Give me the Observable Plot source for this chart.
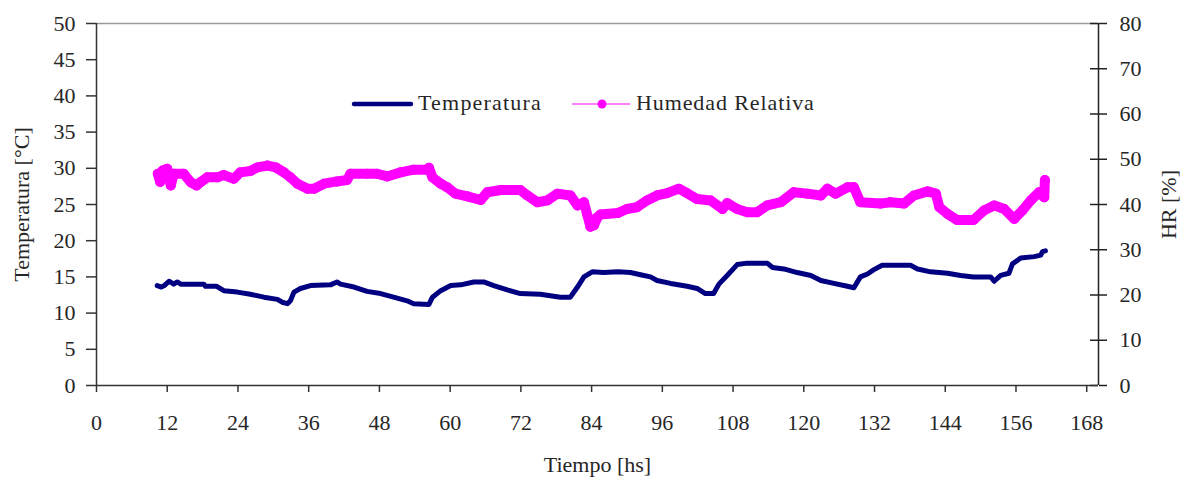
<!DOCTYPE html>
<html>
<head>
<meta charset="utf-8">
<script src="https://cdn.jsdelivr.net/npm/d3@7"></script>
<script src="https://cdn.jsdelivr.net/npm/@observablehq/plot@0.6"></script>
<style>
  html, body { margin: 0; padding: 0; background: #fff; }
  #wrap { position: relative; width: 1190px; height: 481px; }
  #legend { position: absolute; left: 0; top: 0; pointer-events: none; }
</style>
</head>
<body>
<div id="wrap">
  <div id="chart"></div>
  <svg id="legend" width="1190" height="481"></svg>
</div>
<script>
// ---- data ----
const xTicks = [0, 12, 24, 36, 48, 60, 72, 84, 96, 108, 120, 132, 144, 156, 168];
const tempTicks = [0, 5, 10, 15, 20, 25, 30, 35, 40, 45, 50];
const hrTicks = [0, 10, 20, 30, 40, 50, 60, 70, 80];

const tempHours = [10.3, 11.0, 11.5, 12.3, 13.1, 13.7, 14.3, 16.0, 18.2, 18.5, 20.4, 21.6, 23.9, 26.1, 28.4, 30.7, 31.5, 32.4, 32.9, 33.5, 34.6, 36.3, 39.7, 40.8, 41.4, 43.7, 45.9, 48.2, 50.4, 52.7, 53.8, 56.4, 57.0, 58.4, 60.1, 61.8, 64.0, 65.7, 67.4, 69.7, 71.9, 75.3, 78.7, 80.4, 81.6, 82.7, 84.1, 86.0, 88.5, 90.6, 92.3, 94.0, 95.1, 97.4, 100.2, 101.9, 103.3, 104.7, 105.6, 107.0, 108.7, 110.4, 113.8, 114.7, 116.6, 118.9, 121.2, 122.9, 125.1, 127.4, 128.5, 129.6, 130.8, 131.9, 133.3, 138.1, 139.3, 141.5, 144.4, 146.6, 148.8, 151.7, 152.3, 153.4, 154.8, 155.4, 156.8, 159.1, 160.2, 160.5, 161.0];
const tempValues = [13.8, 13.6, 13.8, 14.4, 14.0, 14.3, 14.0, 14.0, 14.0, 13.7, 13.7, 13.1, 12.9, 12.6, 12.2, 11.9, 11.5, 11.3, 11.7, 12.9, 13.4, 13.8, 13.9, 14.3, 14.0, 13.6, 13.0, 12.7, 12.2, 11.7, 11.3, 11.2, 12.2, 13.1, 13.8, 13.9, 14.3, 14.3, 13.8, 13.2, 12.7, 12.6, 12.2, 12.2, 13.6, 15.0, 15.7, 15.6, 15.7, 15.6, 15.3, 15.0, 14.5, 14.1, 13.7, 13.4, 12.7, 12.7, 14.0, 15.2, 16.7, 16.9, 16.9, 16.3, 16.1, 15.6, 15.2, 14.5, 14.1, 13.7, 13.5, 15.0, 15.4, 16.0, 16.6, 16.6, 16.1, 15.7, 15.5, 15.2, 15.0, 15.0, 14.4, 15.2, 15.5, 16.8, 17.6, 17.8, 18.0, 18.5, 18.6];

const hrHours = [10.4, 10.8, 11.2, 12.0, 12.3, 12.6, 13.1, 14.8, 16.0, 17.0, 17.6, 18.8, 20.5, 21.6, 23.3, 24.4, 26.1, 27.3, 29.0, 30.4, 31.8, 32.9, 34.1, 35.8, 36.9, 38.6, 40.8, 42.5, 43.1, 45.9, 47.6, 49.3, 51.6, 53.8, 56.1, 56.4, 57.0, 58.4, 59.5, 60.9, 62.9, 65.2, 66.3, 68.6, 71.9, 73.1, 74.8, 76.5, 78.2, 80.4, 81.6, 82.7, 83.3, 83.8, 84.4, 85.0, 85.5, 88.4, 90.0, 91.7, 93.4, 95.1, 96.8, 98.8, 100.2, 101.9, 104.2, 106.2, 107.0, 108.7, 110.4, 112.1, 113.8, 116.1, 118.3, 120.6, 122.9, 124.0, 125.4, 127.4, 128.5, 129.6, 133.0, 134.7, 137.0, 138.7, 141.0, 142.4, 143.0, 144.4, 146.0, 148.8, 150.6, 152.3, 154.0, 155.7, 157.1, 158.5, 159.9, 160.8, 160.9];
const hrValues = [46.8, 45.0, 47.5, 47.9, 46.0, 44.2, 46.8, 46.8, 44.9, 44.2, 44.9, 46.0, 46.0, 46.5, 45.7, 47.1, 47.4, 48.2, 48.6, 48.2, 47.1, 46.0, 44.6, 43.5, 43.5, 44.6, 45.1, 45.4, 46.8, 46.8, 46.8, 46.2, 47.1, 47.7, 47.7, 48.1, 46.0, 44.6, 43.8, 42.4, 41.8, 41.0, 42.7, 43.2, 43.2, 42.0, 40.5, 40.9, 42.4, 42.0, 39.8, 40.5, 37.6, 35.1, 35.4, 37.2, 37.8, 38.1, 39.0, 39.4, 40.9, 42.0, 42.5, 43.5, 42.5, 41.2, 40.9, 39.0, 40.3, 39.0, 38.3, 38.3, 39.8, 40.5, 42.7, 42.4, 42.0, 43.5, 42.4, 43.8, 43.8, 40.5, 40.2, 40.5, 40.2, 42.0, 42.9, 42.4, 39.4, 37.9, 36.6, 36.6, 38.7, 39.8, 39.0, 36.8, 38.7, 40.9, 42.7, 41.6, 45.4];

// ---- build tables ----
const temp = tempHours.map((h, i) => ({h, v: tempValues[i]}));
const hr = hrHours.map((h, i) => ({h, v: hrValues[i]}));
const k = 50 / 80; // HR (0–80) mapped onto the temperature scale (0–50)

const W = 1190, H = 481;
const mL = 96, mR = 92, mT = 23, mB = 96;
const innerW = W - mL - mR;
const navy = "#000080", magenta = "#ff00ff", ink = "#262626";

const chart = Plot.plot({
  width: W, height: H,
  marginLeft: mL, marginRight: mR, marginTop: mT, marginBottom: mB,
  style: {fontFamily: "'Liberation Serif', 'Times New Roman', serif", fontSize: "22px", color: ink, background: "#fff", overflow: "visible"},
  x: {domain: [0, 170]},
  y: {domain: [0, 50]},
  marks: [
    Plot.ruleY([50], {stroke: "#9a9a9a", strokeWidth: 1.5}),
    Plot.axisX({ticks: xTicks, tickSize: 7, tickPadding: 22, stroke: "#333", strokeWidth: 1.5,
      label: "Tiempo [hs]", labelAnchor: "center", labelArrow: "none", labelOffset: 86}),
    Plot.axisY({anchor: "left", ticks: tempTicks, tickSize: 10, tickPadding: 11, stroke: "#333", strokeWidth: 1.5,
      label: "Temperatura [°C]", labelAnchor: "center", labelArrow: "none", labelOffset: 83}),
    Plot.axisY({anchor: "right", ticks: hrTicks.map(v => v * k), tickFormat: d => Math.round(d / k),
      tickSize: 8, tickPadding: 13, stroke: "#222", strokeWidth: 1.5,
      label: "HR [%]", labelAnchor: "center", labelArrow: "none", labelOffset: 77}),
    Plot.tickY(hrTicks.map(v => v * k), {insetLeft: innerW - 8, stroke: "#222", strokeWidth: 1.5}),
    Plot.ruleX([0], {stroke: "#333", strokeWidth: 1.5}),
    Plot.ruleX([170], {stroke: "#222", strokeWidth: 1.5}),
    Plot.ruleY([0], {stroke: "#333", strokeWidth: 1.5}),
    Plot.line(hr, {x: "h", y: d => d.v * k, stroke: magenta, strokeWidth: 10, strokeLinejoin: "round", strokeLinecap: "round"}),
    Plot.dot(hr, {x: "h", y: d => d.v * k, r: 5, fill: magenta, stroke: "none"}),
    Plot.line(temp, {x: "h", y: "v", stroke: navy, strokeWidth: 5, strokeLinejoin: "round", strokeLinecap: "round"})
  ]
});
document.getElementById("chart").appendChild(chart);

// ---- legend (inside the plot area, as in the reference) ----
const lg = d3.select("#legend");
const font = "'Liberation Serif', 'Times New Roman', serif";
lg.append("line").attr("x1", 354).attr("x2", 411).attr("y1", 104).attr("y2", 104)
  .attr("stroke", navy).attr("stroke-width", 4.5).attr("stroke-linecap", "round");
lg.append("text").attr("x", 418).attr("y", 110).attr("font-family", font).attr("font-size", 22)
  .attr("letter-spacing", 1.2).attr("fill", ink).text("Temperatura");
lg.append("line").attr("x1", 572).attr("x2", 630).attr("y1", 104).attr("y2", 104)
  .attr("stroke", magenta).attr("stroke-width", 1.2);
lg.append("circle").attr("cx", 602).attr("cy", 104).attr("r", 4.5).attr("fill", magenta);
lg.append("text").attr("x", 636).attr("y", 110).attr("font-family", font).attr("font-size", 22)
  .attr("letter-spacing", 0.9).attr("fill", ink).text("Humedad Relativa");
</script>
</body>
</html>
